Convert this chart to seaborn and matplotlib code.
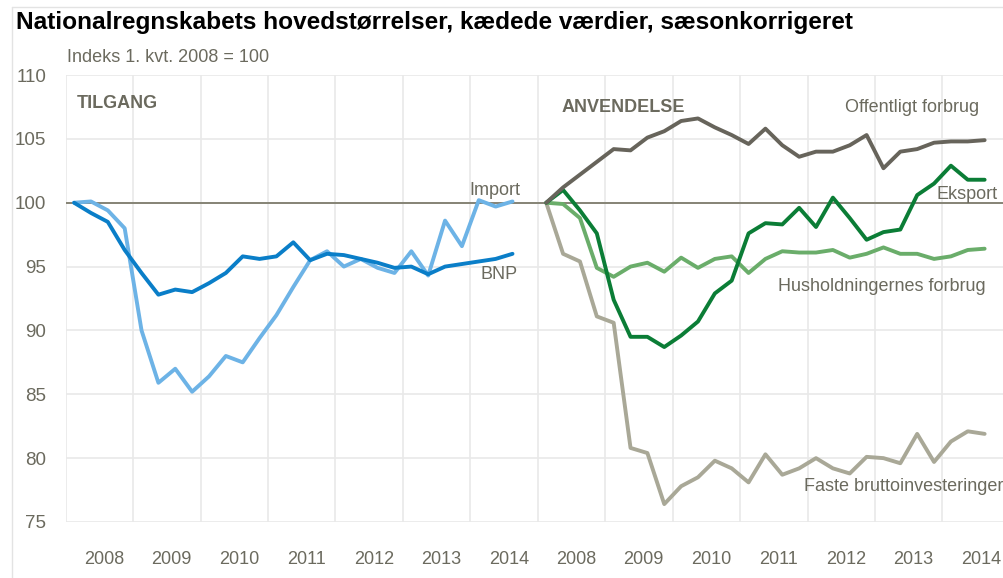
import numpy as np
import pandas as pd
import matplotlib
matplotlib.use("Agg")
import matplotlib.pyplot as plt
import seaborn as sns

# kvartaler 2008K1 - 2014K3
kvartaler = [f"{y}K{q}" for y in range(2008, 2015) for q in range(1, 5)][:27]
aar = ["2008", "2009", "2010", "2011", "2012", "2013", "2014"]

# TILGANG
bnp = [100.0, 99.2, 98.5, 96.3, 94.5, 92.8, 93.2, 93.0, 93.7, 94.5, 95.8, 95.6, 95.8, 96.9,
       95.5, 96.0, 95.9, 95.6, 95.3, 94.9, 95.0, 94.4, 95.0, 95.2, 95.4, 95.6, 96.0]
importen = [100.0, 100.1, 99.4, 98.0, 90.0, 85.9, 87.0, 85.2, 86.4, 88.0, 87.5, 89.4, 91.2, 93.4,
            95.5, 96.2, 95.0, 95.6, 94.9, 94.5, 96.2, 94.3, 98.6, 96.6, 100.2, 99.7, 100.1]

# ANVENDELSE
offentligt = [100.0, 101.2, 102.2, 103.2, 104.2, 104.1, 105.1, 105.6, 106.4, 106.6, 105.9, 105.3,
              104.6, 105.8, 104.5, 103.6, 104.0, 104.0, 104.5, 105.3, 102.7, 104.0, 104.2, 104.7,
              104.8, 104.8, 104.9]
eksport = [100.0, 101.0, 99.4, 97.6, 92.4, 89.5, 89.5, 88.7, 89.6, 90.7, 92.9, 93.9, 97.6, 98.4,
           98.3, 99.6, 98.1, 100.4, 98.8, 97.1, 97.7, 97.9, 100.6, 101.5, 102.9, 101.8, 101.8]
husholdning = [100.0, 99.9, 98.8, 94.9, 94.2, 95.0, 95.3, 94.6, 95.7, 94.9, 95.6, 95.8, 94.5,
               95.6, 96.2, 96.1, 96.1, 96.3, 95.7, 96.0, 96.5, 96.0, 96.0, 95.6, 95.8, 96.3, 96.4]
faste = [100.0, 96.0, 95.4, 91.1, 90.6, 80.8, 80.4, 76.4, 77.8, 78.5, 79.8, 79.2, 78.1, 80.3,
         78.7, 79.2, 80.0, 79.2, 78.8, 80.1, 80.0, 79.6, 81.9, 79.7, 81.3, 82.1, 81.9]

tekst = "#6b6a5e"

sns.set_style("white")
plt.rcParams["font.family"] = ["Liberation Sans", "DejaVu Sans"]

fig = plt.figure(figsize=(10.04, 5.78), dpi=100)
ax = fig.add_axes([0.0654, 0.0969, 0.9405, 0.7733])

# x-position: kvartal midt i aarets felt, panel 2 forskudt 7 aar
pos = np.arange(len(kvartaler)) / 4 + 0.125
serier = [
    (0, importen, "#6db3e6"),
    (0, bnp, "#0a7ec8"),
    (7, faste, "#a9a897"),
    (7, husholdning, "#6aad6a"),
    (7, eksport, "#0b7d36"),
    (7, offentligt, "#67645b"),
]
for skift, vals, farve in serier:
    sns.lineplot(x=pos + skift, y=vals, color=farve, lw=2.8, ax=ax, zorder=3)

ax.axhline(100, color="#7e7c6c", lw=1.3, zorder=2)

ax.set_xlim(0, 14)
ax.set_ylim(75, 110)
ax.set_xticks(np.arange(0, 15))
ax.set_xticks(np.arange(14) + 0.57, minor=True)
ax.set_xticklabels([])
ax.set_xticklabels(aar + aar, minor=True)
ax.set_yticks(np.arange(75, 111, 5))
ax.grid(True, which="major", color="#e9e9e9", lw=1.2, zorder=0)
ax.tick_params(axis="x", which="both", length=0, pad=21, labelsize=13, labelcolor=tekst)
ax.tick_params(axis="y", length=0, pad=14, labelsize=13.5, labelcolor=tekst)
for s in ax.spines.values():
    s.set_visible(False)

# serie-etiketter
kw = dict(fontsize=13, color=tekst, va="center")
ax.text(6.36, 100.92, "Import", ha="center", **kw)
ax.text(6.42, 94.39, "BNP", ha="center", **kw)
ax.text(12.55, 107.48, "Offentligt forbrug", ha="center", **kw)
ax.text(13.36, 100.66, "Eksport", ha="center", **kw)
ax.text(12.10, 93.42, "Husholdningernes forbrug", ha="center", **kw)
ax.text(12.43, 77.8, "Faste bruttoinvesteringer", ha="center", **kw)
ax.text(0.168, 107.75, "TILGANG", ha="left", fontweight="bold", **kw)
ax.text(7.35, 107.48, "ANVENDELSE", ha="left", fontweight="bold", **kw)

fig.text(16 / 1004, 1 - 23 / 578, "Nationalregnskabets hovedstørrelser, kædede værdier, sæsonkorrigeret",
         fontsize=17.6, fontweight="bold", color="black", va="center", ha="left")
fig.text(66.7 / 1004, 1 - 57 / 578, "Indeks 1. kvt. 2008 = 100", fontsize=13, color=tekst,
         va="center", ha="left")

# tynd ramme om figuren
fig.add_artist(plt.Line2D([12 / 1004, 1], [1 - 7 / 578] * 2, color="#e3e3e3", lw=1, transform=fig.transFigure))
fig.add_artist(plt.Line2D([12 / 1004] * 2, [0, 1 - 7 / 578], color="#e3e3e3", lw=1, transform=fig.transFigure))

fig.savefig("out.png", dpi=100)
